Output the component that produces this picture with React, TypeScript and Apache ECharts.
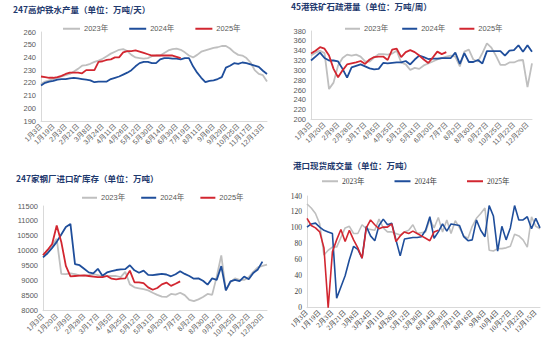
import React, { useEffect, useRef } from 'react';
import * as echarts from 'echarts';

const NAMES = ['2023年', '2024年', '2025年'];
const COLORS = ['#BFBFBF', '#1F4E9B', '#D22630'];

// Panel 1: 247高炉铁水产量
const P1_DATES = ['1月3日', '1月8日', '1月13日', '1月19日', '1月24日', '1月29日', '2月3日', '2月9日', '2月15日', '2月21日', '2月26日', '3月3日', '3月8日', '3月13日', '3月18日', '3月24日', '3月30日', '4月5日', '4月11日', '4月16日', '4月21日', '4月26日', '5月1日', '5月6日', '5月12日', '5月18日', '5月24日', '5月30日', '6月4日', '6月9日', '6月14日', '6月19日', '6月24日', '6月30日', '7月6日', '7月12日', '7月19日', '7月26日', '8月3日', '8月11日', '8月19日', '8月28日', '9月6日', '9月14日', '9月21日', '9月29日', '10月8日', '10月16日', '10月25日', '11月1日', '11月9日', '11月17日', '11月26日', '12月4日', '12月13日', '12月20日'];
const P1_2023 = [219, 221, 222, 223, 224, 225, 226, 227, 229, 231, 233.5, 234, 235, 236.5, 237.5, 239, 241, 243, 244.5, 246, 246.5, 245, 242, 240, 239.5, 239, 239.5, 241, 241.5, 241.5, 243.5, 245.5, 246.5, 247, 246, 244, 241.5, 240, 242, 244.5, 245.5, 246.5, 247.5, 248, 249, 249, 247, 244, 242, 241.5, 239.5, 236, 230, 227, 226, 221];
const P1_2024 = [218, 220, 221, 221.5, 222.5, 223, 223, 223.5, 224, 223.5, 223, 222.5, 222, 220.5, 221, 221, 221, 223, 224, 225, 226.5, 228, 230, 233, 235.5, 236.5, 236.5, 235.5, 235.5, 238.5, 239.5, 239.5, 239, 239, 238.5, 239.5, 239.5, 233, 228, 224, 220.5, 221.5, 222, 223, 224.5, 232, 233.5, 235.5, 235, 236, 235.5, 234.5, 233.5, 232.5, 229.5, 227];
const P1_2025 = [225, 224.5, 224, 224, 224.5, 225.5, 227, 228, 228, 228, 227.5, 230, 230, 230, 236.5, 237, 238, 238.5, 240, 240, 244, 245, 245, 245.5, 244.5, 243.5, 242.5, 241.5, 241.5, 241.5, 241.5, 241.5, 241.5, 240.5, 239.5];

// Panel 2: 45港铁矿石疏港量
const P2_DATES = ['1月3日', '1月9日', '1月14日', '1月20日', '1月27日', '2月2日', '2月9日', '2月15日', '2月22日', '2月28日', '3月6日', '3月11日', '3月17日', '3月24日', '3月29日', '4月5日', '4月12日', '4月18日', '4月25日', '4月30日', '5月6日', '5月12日', '5月19日', '5月25日', '5月31日', '6月7日', '6月13日', '6月20日', '6月25日', '7月1日', '7月7日', '7月16日', '7月24日', '8月2日', '8月11日', '8月20日', '8月30日', '9月8日', '9月18日', '9月27日', '10月6日', '10月15日', '10月25日', '11月3日', '11月12日', '11月22日', '12月1日', '12月10日', '12月20日', '12月27日'];
const P2_2023 = [330, 336, 340, 335, 262, 275, 310, 325, 332, 330, 332, 328, 318, 318, 326, 333, 333, 332, 334, 340, 316, 312, 301, 305, 303, 310, 314, 318, 322, 325, 328, 330, 328, 308, 338, 342, 322, 318, 335, 355, 346, 330, 311, 311, 316, 316, 320, 321, 266, 314];
const P2_2024 = [320, 328, 336, 325, 320, 320, 318, 303, 285, 306, 309, 312, 308, 304, 302, 303, 315, 314, 315, 316, 316, 319, 312, 322, 330, 327, 323, 324, 324, 325, 325, 325, 336, 313, 335, 317, 317, 321, 314, 339, 339, 339, 339, 330, 340, 341, 351, 338, 351, 338];
const P2_2025 = [334, 340, 347, 344, 330, 303, 286, 300, 312, 314, 316, 319, 313, 322, 327, 328, 328, 321, 342, 344, 327, 337, 341, 337, 330, 322, 315, 326, 338, 333, 337];

// Panel 3: 247家钢厂进口矿库存
const P3_DATES = P2_DATES;
const P3_2023 = [9860, 10000, 10200, 10400, 9230, 9220, 9250, 9220, 9180, 9170, 9190, 9220, 9190, 9140, 9160, 9160, 9160, 9120, 9300, 8880, 8780, 8750, 8720, 8680, 8600, 8530, 8470, 8460, 8560, 8540, 8600, 8520, 8360, 8320, 8380, 8460, 8560, 8530, 9140, 9850, 8680, 8950, 9080, 9030, 9030, 9120, 9300, 9450, 9500, 9540];
const P3_2024 = [9780, 9920, 10100, 10300, 10550, 10800, 10900, 9560, 9520, 9400, 9280, 9250, 9400, 9170, 9280, 9320, 9360, 9380, 9390, 9520, 9350, 9270, 9340, 9200, 9190, 9210, 9230, 9210, 9150, 9220, 9320, 9230, 9160, 9070, 9080, 9000, 8870, 9080, 9030, 9490, 8680, 8980, 9030, 8990, 9140, 9050, 9260, 9380, 9640];
const P3_2025 = [9860, 10030, 10230, 10850, 10300, 9500, 9150, 9160, 9170, 9180, 9160, 9140, 9120, 9120, 9160, 9070, 9050, 9070, 9080, 9340, 8950, 8950, 8920, 8780, 8700, 8760, 8880, 8940, 8830, 8900, 8980];

// Panel 4: 港口现货成交量
const P4_DATES = ['1月3日', '1月8日', '1月13日', '1月19日', '1月24日', '1月29日', '2月3日', '2月9日', '2月15日', '2月21日', '2月26日', '3月3日', '3月8日', '3月13日', '3月18日', '3月24日', '3月30日', '4月5日', '4月11日', '4月16日', '4月21日', '4月26日', '5月1日', '5月6日', '5月12日', '5月18日', '5月24日', '5月30日', '6月4日', '6月9日', '6月14日', '6月19日', '6月24日', '6月30日', '7月7日', '7月14日', '7月21日', '7月29日', '8月7日', '8月16日', '8月23日', '8月31日', '9月8日', '9月17日', '9月26日', '10月4日', '10月12日', '10月20日', '10月27日', '11月5日', '11月14日', '11月22日', '11月29日', '12月7日', '12月15日', '12月22日'];
const P4_2023 = [130, 125, 118, 105, 66, 72, 76, 76, 88, 100, 102, 93, 93, 104, 99, 98, 97, 111, 100, 95, 95, 93, 91, 95, 97, 104, 93, 94, 95, 111, 100, 113, 95, 110, 93, 109, 100, 90, 87, 102, 112, 118, 125, 72, 71, 74, 74, 75, 77, 92, 90, 85, 76, 114, 102, 99];
const P4_2024 = [101, 105, 106, 101, 97, 95, 93, 12, 26, 40, 60, 77, 73, 62, 102, 90, 84, 103, 111, 104, 106, 85, 65, 86, 87, 88, 88, 89, 97, 114, 87, 95, 105, 96, 105, 104, 103, 89, 84, 85, 110, 97, 89, 128, 115, 71, 102, 85, 100, 128, 110, 110, 114, 99, 112, 100];
const P4_2025 = [112, 103, 100, 95, 75, 0, 70, 85, 98, 83, 97, 85, 75, 62, 100, 110, 104, 99, 101, 101, 105, 83, 90, 95, 93, 96, 93, 90, 87, 84, 95, 97];

const TITLES = ['247高炉铁水产量（单位：万吨/天）', '45港铁矿石疏港量（单位：万吨/周）', '247家钢厂进口矿库存（单位：万吨）', '港口现货成交量（单位：万吨）'];

const SANS = 'Liberation Sans, Noto Sans CJK SC, sans-serif';
const SERIF = 'Liberation Serif, Noto Sans CJK SC, serif';

export default function App() {
  const ref = useRef<HTMLDivElement>(null);
  useEffect(() => {
    if (!ref.current) return;
    const chart = echarts.init(ref.current, undefined, { renderer: 'svg' });

    const grids = [
      { left: 41, top: 32, width: 226, height: 89 },
      { left: 311, top: 31, width: 221, height: 88.5 },
      { left: 43, top: 206, width: 224, height: 104.7 },
      { left: 307, top: 196, width: 233, height: 111.7 },
    ];
    const dates = [P1_DATES, P2_DATES, P3_DATES, P4_DATES];
    const yRanges = [
      [190, 260, 10],
      [200, 380, 20],
      [8000, 11500, 500],
      [0, 140, 20],
    ];
    const fonts = [SANS, SANS, SANS, SERIF];
    const labelColors = ['#595959', '#595959', '#595959', '#404040'];
    const dataSets = [
      [P1_2023, P1_2024, P1_2025],
      [P2_2023, P2_2024, P2_2025],
      [P3_2023, P3_2024, P3_2025],
      [P4_2023, P4_2024, P4_2025],
    ];
    const titlePos = [
      { left: 13, top: 5 },
      { left: 291, top: 2 },
      { left: 16, top: 174 },
      { left: 293, top: 161 },
    ];
    const legendPos = [
      { left: 63, top: 25, gap: 21, w: 17 },
      { left: 345, top: 25, gap: 14, w: 15 },
      { left: 82, top: 194, gap: 16, w: 15 },
      { left: 322, top: 177.5, gap: 30, w: 16 },
    ];

    const series: any[] = [];
    dataSets.forEach((ds, g) => {
      ds.forEach((d, k) => {
        series.push({
          type: 'line',
          name: NAMES[k],
          xAxisIndex: g,
          yAxisIndex: g,
          data: d,
          symbol: 'none',
          smooth: false,
          lineStyle: { width: g === 3 ? 1.6 : 1.8, color: COLORS[k] },
          itemStyle: { color: COLORS[k] },
          z: 2 + k,
        });
      });
    });

    chart.setOption({
      animation: false,
      title: TITLES.map((t, i) => ({
        text: t,
        left: titlePos[i].left,
        top: titlePos[i].top,
        padding: 0,
        textStyle: { fontSize: 8.5, fontWeight: 'bold', color: '#1F3A6E', fontFamily: 'Noto Sans CJK SC' },
      })),
      legend: legendPos.map((p, i) => ({
        left: p.left,
        top: p.top,
        padding: 0,
        icon: 'rect',
        itemWidth: p.w,
        itemHeight: 2,
        itemGap: p.gap,
        data: NAMES,
        textStyle: { fontSize: 7.5, color: labelColors[i], fontFamily: fonts[i], padding: [0, 0, 0, -1] },
      })),
      grid: grids,
      xAxis: grids.map((_, i) => ({
        gridIndex: i,
        type: 'category',
        data: dates[i],
        boundaryGap: false,
        axisLine: { show: true, lineStyle: { color: '#D9D9D9', width: 1 } },
        axisTick: { show: false },
        splitLine: { show: false },
        axisLabel: {
          interval: 2,
          rotate: 45,
          fontSize: 7,
          margin: 4,
          color: labelColors[i],
          fontFamily: fonts[i],
        },
      })),
      yAxis: grids.map((_, i) => ({
        gridIndex: i,
        type: 'value',
        min: yRanges[i][0],
        max: yRanges[i][1],
        interval: yRanges[i][2],
        axisLine: { show: true, lineStyle: { color: '#D9D9D9', width: 1 } },
        axisTick: { show: false },
        splitLine: { show: false },
        axisLabel: {
          fontSize: 7.5,
          margin: 5,
          color: labelColors[i],
          fontFamily: fonts[i],
          formatter: (v: number) => String(v),
        },
      })),
      series,
    });
    return () => chart.dispose();
  }, []);
  return <div ref={ref} style={{ position: 'fixed', left: 0, top: 0, width: 550, height: 351, background: '#fff' }} />;
}
